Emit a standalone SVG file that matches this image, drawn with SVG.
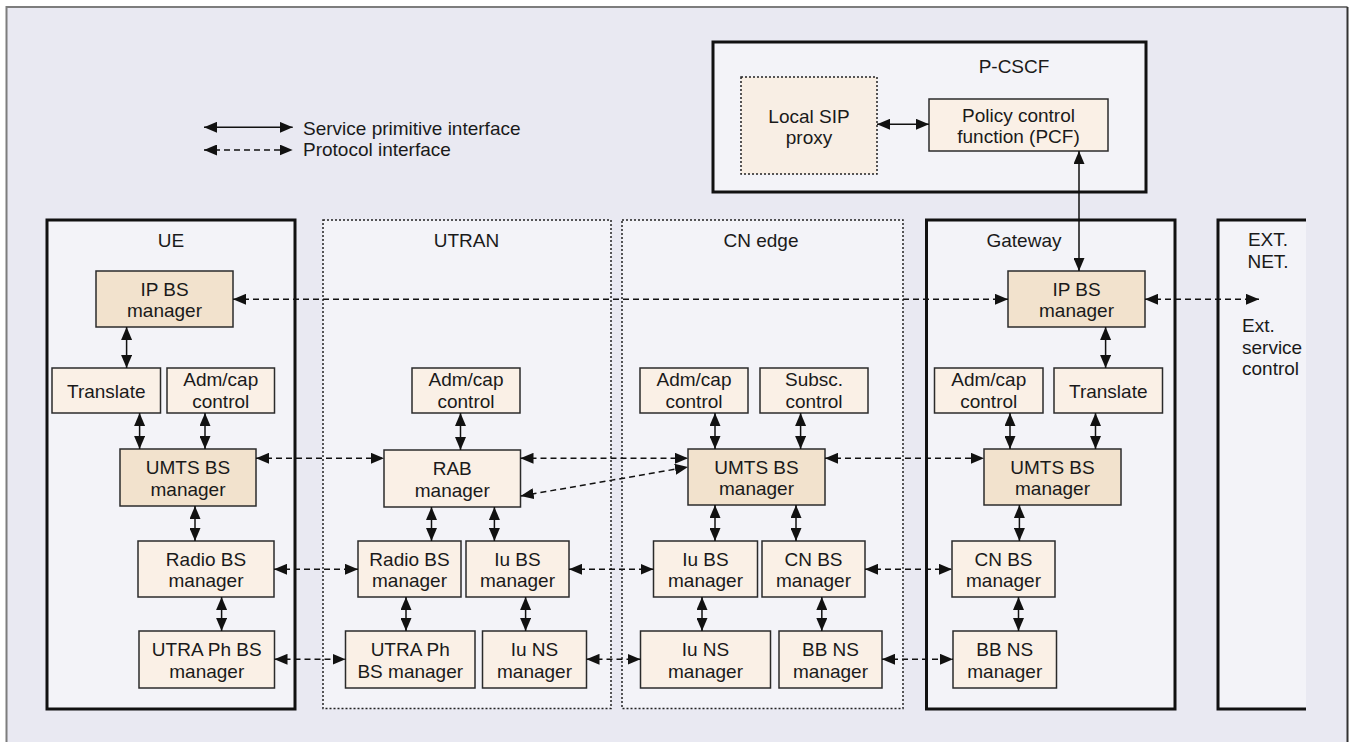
<svg xmlns="http://www.w3.org/2000/svg" width="1351" height="742" viewBox="0 0 1351 742">
<style>
text{font-family:"Liberation Sans",Arial,sans-serif;font-size:19px;fill:#1a1a1a;text-anchor:middle}
.l{text-anchor:start}
.n{fill:#faf0e6;stroke:#2b2b2b;stroke-width:1.5}
.d{fill:#f2e2cd;stroke:#2b2b2b;stroke-width:1.5}
.col{fill:#f3f3f8;stroke:#111;stroke-width:3}
.dot{fill:#f3f3f8;stroke:#222;stroke-width:1.5;stroke-dasharray:2 2}
.c{stroke:#111;stroke-width:1.5;fill:none;marker-start:url(#ah);marker-end:url(#ah)}
.ds{stroke-dasharray:6 4}
</style>
<defs>
<marker id="ah" viewBox="0 0 13 11" refX="13" refY="5.5" markerWidth="13" markerHeight="11" markerUnits="userSpaceOnUse" orient="auto-start-reverse"><path d="M0,0 L13,5.5 L0,11 z" fill="#111"/></marker>
</defs>
<rect x="0" y="0" width="1351" height="742" fill="#ffffff"/>
<rect x="6.5" y="7" width="1341.5" height="760" fill="#e9e9f2"/>
<path d="M6.5,742 V7 H1347.5" fill="none" stroke="#7d7d7d" stroke-width="2"/>
<path d="M1347.5,7 V742" fill="none" stroke="#333" stroke-width="2"/>

<g id="legend">
<line class="c" x1="204" y1="127.3" x2="292.7" y2="127.3"/>
<line class="c ds" x1="204" y1="150" x2="292.7" y2="150"/>
<text class="l" x="303" y="134.5">Service primitive interface</text>
<text class="l" x="303" y="156">Protocol interface</text>
</g>

<g id="pcscf">
<rect x="713" y="42" width="433" height="150" fill="#f3f3f8" stroke="#111" stroke-width="3"/>
<text x="1014" y="73">P-CSCF</text>
</g>
<g id="local_sip">
<rect x="741" y="77" width="136" height="97" fill="#f8eee4" stroke="#222" stroke-width="1.5" stroke-dasharray="2 2"/>
<text x="809" y="122.5">Local SIP</text><text x="809" y="144">proxy</text>
</g>
<g id="pcf">
<rect class="n" x="929" y="99" width="179" height="52"/>
<text x="1018.5" y="121.5">Policy control</text><text x="1018.5" y="143">function (PCF)</text>
</g>

<g id="ue"><rect class="col" x="47" y="220" width="248" height="489"/><text x="171" y="247">UE</text></g>
<g id="utran"><rect class="dot" x="323" y="220" width="288" height="488.5"/><text x="466.5" y="247">UTRAN</text></g>
<g id="cn_edge"><rect class="dot" x="622" y="220" width="281" height="488.5"/><text x="761" y="247">CN edge</text></g>
<g id="gateway"><rect class="col" x="926.5" y="220" width="248.5" height="489"/><text x="1024" y="247">Gateway</text></g>
<g id="ext_net">
<rect x="1218" y="220" width="88" height="489" fill="#f3f3f8"/>
<path d="M1306,220 H1218 V709 H1306" fill="none" stroke="#111" stroke-width="3"/>
<text x="1268" y="246">EXT.</text><text x="1268" y="267.5">NET.</text>
<text class="l" x="1242" y="332">Ext.</text><text class="l" x="1242" y="353.5">service</text><text class="l" x="1242" y="375">control</text>
</g>

<g id="ue_ip"><rect class="d" x="96" y="271" width="137" height="56"/><text x="164.5" y="295.5">IP BS</text><text x="164.5" y="317">manager</text></g>
<g id="ue_translate"><rect class="n" x="52" y="368" width="108.5" height="45"/><text x="106.25" y="397.5">Translate</text></g>
<g id="ue_adm"><rect class="n" x="167" y="368" width="107.5" height="45"/><text x="220.75" y="386">Adm/cap</text><text x="220.75" y="407.5">control</text></g>
<g id="ue_umts"><rect class="d" x="120" y="449" width="136" height="57"/><text x="188" y="474">UMTS BS</text><text x="188" y="495.5">manager</text></g>
<g id="ue_radio"><rect class="n" x="138" y="541" width="136" height="56"/><text x="206" y="565.5">Radio BS</text><text x="206" y="587">manager</text></g>
<g id="ue_utra"><rect class="n" x="139" y="631" width="135.5" height="57"/><text x="206.75" y="656">UTRA Ph BS</text><text x="206.75" y="677.5">manager</text></g>

<g id="utran_adm"><rect class="n" x="412" y="368" width="108" height="45"/><text x="466" y="386">Adm/cap</text><text x="466" y="407.5">control</text></g>
<g id="rab"><rect class="n" x="384" y="450" width="136.5" height="57"/><text x="452.25" y="475">RAB</text><text x="452.25" y="496.5">manager</text></g>
<g id="utran_radio"><rect class="n" x="358" y="541" width="103" height="56"/><text x="409.5" y="565.5">Radio BS</text><text x="409.5" y="587">manager</text></g>
<g id="utran_iu_bs"><rect class="n" x="466" y="541" width="103" height="56"/><text x="517.5" y="565.5">Iu BS</text><text x="517.5" y="587">manager</text></g>
<g id="utran_utra"><rect class="n" x="345.5" y="631" width="129.5" height="57"/><text x="410.25" y="656">UTRA Ph</text><text x="410.25" y="677.5">BS manager</text></g>
<g id="utran_iu_ns"><rect class="n" x="482.5" y="631" width="104" height="57"/><text x="534.5" y="656">Iu NS</text><text x="534.5" y="677.5">manager</text></g>

<g id="cn_adm"><rect class="n" x="640" y="368" width="108" height="45"/><text x="694" y="386">Adm/cap</text><text x="694" y="407.5">control</text></g>
<g id="cn_subsc"><rect class="n" x="760" y="368" width="108" height="45"/><text x="814" y="386">Subsc.</text><text x="814" y="407.5">control</text></g>
<g id="cn_umts"><rect class="d" x="688" y="449" width="137" height="56"/><text x="756.5" y="473.5">UMTS BS</text><text x="756.5" y="495">manager</text></g>
<g id="cn_iu_bs"><rect class="n" x="653.5" y="541" width="104" height="56"/><text x="705.5" y="565.5">Iu BS</text><text x="705.5" y="587">manager</text></g>
<g id="cn_cn_bs"><rect class="n" x="762" y="541" width="103" height="56"/><text x="813.5" y="565.5">CN BS</text><text x="813.5" y="587">manager</text></g>
<g id="cn_iu_ns"><rect class="n" x="640.5" y="631" width="130" height="57"/><text x="705.5" y="656">Iu NS</text><text x="705.5" y="677.5">manager</text></g>
<g id="cn_bb_ns"><rect class="n" x="779" y="631" width="103" height="57"/><text x="830.5" y="656">BB NS</text><text x="830.5" y="677.5">manager</text></g>

<g id="gw_ip"><rect class="d" x="1008" y="271" width="137" height="56"/><text x="1076.5" y="295.5">IP BS</text><text x="1076.5" y="317">manager</text></g>
<g id="gw_adm"><rect class="n" x="934.5" y="368" width="108.5" height="45"/><text x="988.75" y="386">Adm/cap</text><text x="988.75" y="407.5">control</text></g>
<g id="gw_translate"><rect class="n" x="1054" y="368" width="108.5" height="45"/><text x="1108.25" y="397.5">Translate</text></g>
<g id="gw_umts"><rect class="d" x="984" y="449" width="137" height="56"/><text x="1052.5" y="473.5">UMTS BS</text><text x="1052.5" y="495">manager</text></g>
<g id="gw_cn_bs"><rect class="n" x="952" y="541" width="103" height="56"/><text x="1003.5" y="565.5">CN BS</text><text x="1003.5" y="587">manager</text></g>
<g id="gw_bb_ns"><rect class="n" x="953" y="631" width="103.5" height="57"/><text x="1004.75" y="656">BB NS</text><text x="1004.75" y="677.5">manager</text></g>

<g id="connectors">
<line class="c" x1="877" y1="124.3" x2="929" y2="124.3"/>
<line class="c" x1="1079" y1="151" x2="1079" y2="271"/>
<line class="c" x1="126.6" y1="327" x2="126.6" y2="368"/>
<line class="c" x1="139.6" y1="413" x2="139.6" y2="449"/>
<line class="c" x1="205" y1="413" x2="205" y2="449"/>
<line class="c" x1="195" y1="506" x2="195" y2="541"/>
<line class="c" x1="221.6" y1="597" x2="221.6" y2="631"/>
<line class="c" x1="460.5" y1="413" x2="460.5" y2="450"/>
<line class="c" x1="431.5" y1="507" x2="431.5" y2="541"/>
<line class="c" x1="494.4" y1="507" x2="494.4" y2="541"/>
<line class="c" x1="406" y1="597" x2="406" y2="631"/>
<line class="c" x1="525.6" y1="597" x2="525.6" y2="631"/>
<line class="c" x1="715" y1="413" x2="715" y2="449"/>
<line class="c" x1="800.6" y1="413" x2="800.6" y2="449"/>
<line class="c" x1="715" y1="505" x2="715" y2="541"/>
<line class="c" x1="796" y1="505" x2="796" y2="541"/>
<line class="c" x1="702" y1="597" x2="702" y2="631"/>
<line class="c" x1="821.8" y1="597" x2="821.8" y2="631"/>
<line class="c" x1="1105.6" y1="327" x2="1105.6" y2="368"/>
<line class="c" x1="1010" y1="413" x2="1010" y2="449"/>
<line class="c" x1="1095.5" y1="413" x2="1095.5" y2="449"/>
<line class="c" x1="1019.4" y1="505" x2="1019.4" y2="541"/>
<line class="c" x1="1018.5" y1="597" x2="1018.5" y2="631"/>

<line class="c ds" x1="233" y1="299.3" x2="1008" y2="299.3"/>
<line class="c ds" x1="1145" y1="299.3" x2="1259" y2="299.3"/>
<line class="c ds" x1="256" y1="458.3" x2="384" y2="458.3"/>
<line class="c ds" x1="520.5" y1="458.3" x2="688" y2="458.3"/>
<line class="c ds" x1="520.7" y1="496" x2="688" y2="467"/>
<line class="c ds" x1="825" y1="458.3" x2="984" y2="458.3"/>
<line class="c ds" x1="274" y1="569.3" x2="358" y2="569.3"/>
<line class="c ds" x1="569" y1="569.3" x2="653.5" y2="569.3"/>
<line class="c ds" x1="865" y1="569.3" x2="952" y2="569.3"/>
<line class="c ds" x1="274.5" y1="659.3" x2="345.5" y2="659.3"/>
<line class="c ds" x1="586.5" y1="659.3" x2="640.5" y2="659.3"/>
<line class="c ds" x1="882" y1="659.3" x2="953" y2="659.3"/>
</g>
</svg>
